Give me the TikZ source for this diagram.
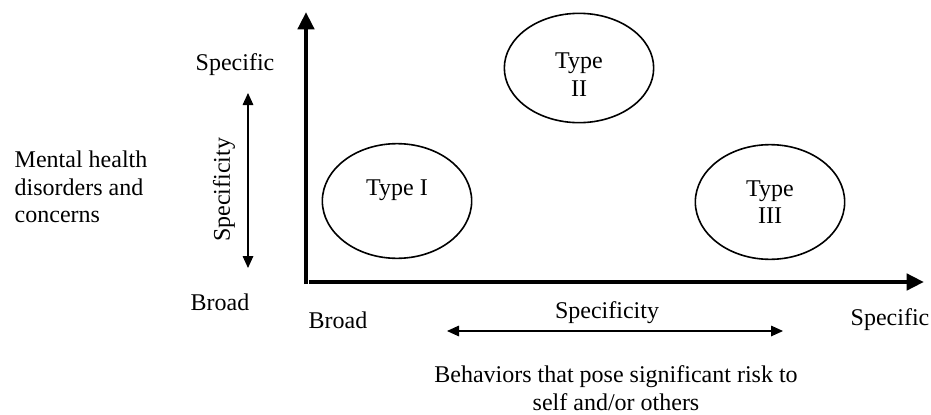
\documentclass[tikz,border=0pt]{standalone}
\usepackage{fontspec}
\setmainfont{Liberation Serif}
\usepackage{tikz}
\usetikzlibrary{arrows.meta,positioning,shapes.geometric}

\begin{document}
\begin{tikzpicture}[x=0.75pt,y=-0.75pt,
font=\fontsize{18}{20.7}\selectfont,
axisline/.style={line width=3.4pt,-{Triangle[length=13pt,width=12pt]}},
spanarrow/.style={line width=0.8pt,{Triangle[length=9pt,width=8pt]}-{Triangle[length=9pt,width=8pt]}},
typeblob/.style={draw,ellipse,line width=1.2pt,inner sep=0pt,minimum width=112pt,minimum height=86pt,align=center}]
\useasboundingbox (0,0) rectangle (931,414);
\coordinate (yfoot) at (306,284);
\coordinate (ytip) at (306,12);
\coordinate (xfoot) at (309,282);
\coordinate (xtip) at (924,282);
\coordinate (vtop) at (248,93);
\coordinate (vbot) at (248,268);
\coordinate (hleft) at (447,331);
\coordinate (hright) at (783,331);
\draw[axisline] (yfoot)--(ytip);
\draw[axisline] (xfoot)--(xtip);
\draw[spanarrow] (vbot)--(vtop);
\draw[spanarrow] (hleft)--(hright);
\node[typeblob] (typeI) at (397,201) {Type I\\ \mbox{}};
\node[typeblob,minimum height=82pt,label={[align=center,yshift=-5pt]center:Type\\II}] (typeII) at (579,68) {};
\node[typeblob] (typeIII) at (770,202) {Type\\III};
\node (yspecific) at (235,65) {Specific};
\node (ybroad) at (220,302) {Broad};
\node[rotate=90] (yspec) at (224,190) {Specificity};
\node[align=left,anchor=west] (ytitle) at (10,187) {Mental health\\disorders and\\concerns};
\node (xbroad) at (338,320) {Broad};
\node (xspecific) at (890,320) {Specific};
\node (xspec) at (607,313) {Specificity};
\node[align=center] (xtitle) at (616,388) {Behaviors that pose significant risk to\\self and/or others};
\end{tikzpicture}
\end{document}
